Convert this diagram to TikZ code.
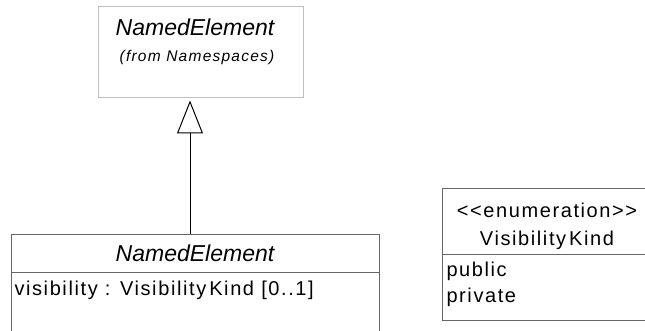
\documentclass[tikz,border=0pt]{standalone}
\usepackage{fontspec}
\setmainfont{Liberation Sans}
\newfontfamily\umlfont[LetterSpace=8]{Liberation Sans}
\usetikzlibrary{positioning, arrows.meta}

\begin{document}
\begin{tikzpicture}[x=1pt, y=-1pt, line width=1pt,
    >={Triangle[open, length=33pt, width=26pt]},
    compart/.style={draw=black!60, rectangle, inner sep=0pt},
    umltext/.style={inner sep=0pt, font=\umlfont\fontsize{20}{28}\selectfont},
    classname/.style={inner sep=0pt, font=\fontsize{23}{28}\selectfont\itshape}]
    \useasboundingbox (0,0) rectangle (645,331);
    % package reference
    \node[compart, draw=black!25, minimum width=205pt, minimum height=91pt] (outer) at (200.5,52.5) {};
    \node[classname] (outername) at (195,27) {NamedElement};
    \node[umltext, font=\umlfont\fontsize{15.5}{18}\selectfont\itshape] (outerpkg) at (197,57) {(from Namespaces)};
    % class
    \node[compart, minimum width=368pt, minimum height=38pt, classname] (ne) at (195,253) {NamedElement};
    \node[compart, minimum width=368pt, minimum height=75pt] (neattr) at (195,309.5) {};
    \node[umltext, anchor=west] (visattr) at (14,290) {visibility : Visibility\kern3pt Kind [0..1]};
    % enumeration
    \node[compart, minimum width=216pt, minimum height=65pt] (vk) at (550,221.5) {};
    \node[umltext, align=center] (vkname) at (547,226) {<<enumeration>>\\Visibility\kern3pt Kind};
    \node[compart, minimum width=216pt, minimum height=66pt] (vkattr) at (550,287) {};
    \node[umltext, anchor=west] (vkpublic) at (446,271) {public};
    \node[umltext, anchor=west] (vkprivate) at (446,297) {private};
    % generalization
    \coordinate (gen) at (190,234);
    \draw[->, shorten >=2pt] (gen) -- (gen |- outer.south);
\end{tikzpicture}
\end{document}
